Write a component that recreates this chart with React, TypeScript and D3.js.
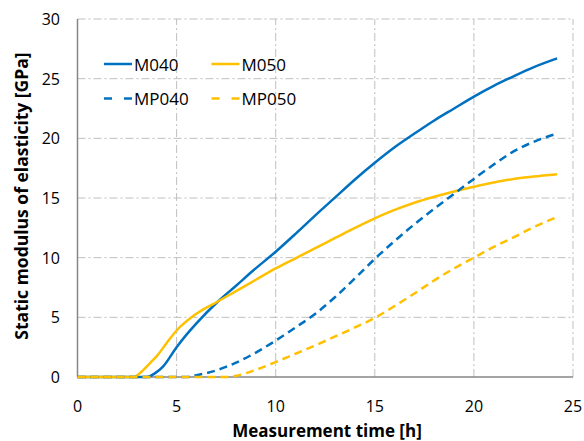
import * as d3 from "d3";

const m040Time = [0, 3.5, 3.9, 4.3, 5, 5.5, 6, 7.1, 8, 8.85, 10, 11, 12, 13, 14, 15, 16, 17, 18, 19, 20, 21, 22, 23, 24.2];
const m040Value = [0, 0, 0.3, 0.85, 2.5, 3.55, 4.5, 6.35, 7.65, 8.9, 10.5, 12.0, 13.55, 15.05, 16.55, 17.95, 19.25, 20.4, 21.5, 22.5, 23.5, 24.4, 25.2, 25.95, 26.7];

const m050Time = [0, 2.85, 3.2, 3.65, 4.0, 4.5, 5, 6, 7.1, 8, 9, 10, 11, 12, 13, 14, 15, 16, 17, 18, 19, 20, 21, 22, 23, 24.2];
const m050Value = [0, 0, 0.4, 1.15, 1.75, 2.85, 3.9, 5.3, 6.35, 7.2, 8.15, 9.1, 9.95, 10.8, 11.65, 12.5, 13.3, 14.0, 14.6, 15.1, 15.55, 15.95, 16.3, 16.6, 16.8, 17.0];

const mp040Time = [0, 5.5, 6, 7, 7.5, 8, 9, 10, 11, 12, 13, 14.2, 15, 16, 17, 18, 19, 20, 21, 22, 23, 24.2];
const mp040Value = [0, 0, 0.15, 0.55, 0.86, 1.2, 2.05, 3.05, 4.15, 5.3, 6.7, 8.6, 9.9, 11.4, 12.8, 14.1, 15.35, 16.6, 17.8, 18.9, 19.7, 20.4];

const mp050Time = [0, 7.6, 8, 9, 10, 11, 12, 13, 14, 15, 16, 17, 18, 19, 20, 21, 22, 23, 24.2];
const mp050Value = [0, 0, 0.1, 0.6, 1.25, 1.95, 2.65, 3.4, 4.15, 4.95, 5.95, 7.0, 8.1, 9.1, 10.0, 10.9, 11.7, 12.55, 13.4];

const xTicks = [0, 5, 10, 15, 20, 25];
const yTicks = [0, 5, 10, 15, 20, 25, 30];

const series = [
  { name: "M040", time: m040Time, value: m040Value, color: "#0070C0", dashed: false },
  { name: "M050", time: m050Time, value: m050Value, color: "#FFC000", dashed: false },
  { name: "MP040", time: mp040Time, value: mp040Value, color: "#0070C0", dashed: true },
  { name: "MP050", time: mp050Time, value: mp050Value, color: "#FFC000", dashed: true },
];

const W = 584;
const H = 441;
const margin = { top: 19, right: 11, bottom: 64, left: 77.5 };
const font = "'Open Sans', 'Liberation Sans', sans-serif";

export default function App() {
  const x = d3.scaleLinear().domain([0, 25]).range([margin.left, W - margin.right]);
  const y = d3.scaleLinear().domain([0, 30]).range([H - margin.bottom, margin.top]);

  const line = d3
    .line<[number, number]>()
    .x((d) => x(d[0]))
    .y((d) => y(d[1]))
    .curve(d3.curveMonotoneX);

  // legend placement, 2 columns x 2 rows
  const legendX = [104, 211.5];
  const legendY = [64, 98.5];

  return (
    <div style={{ position: "absolute", left: 0, top: 0 }}>
      <svg width={W} height={H} style={{ display: "block", background: "#fff" }}>
        {/* grid */}
        <g stroke="#BFBFBF" strokeWidth={1} strokeDasharray="8,3,2,3">
          {yTicks.filter((t) => t > 0).map((t) => (
            <line key={"h" + t} x1={x(0)} x2={x(25)} y1={y(t)} y2={y(t)} />
          ))}
          {xTicks.filter((t) => t > 0).map((t) => (
            <line key={"v" + t} x1={x(t)} x2={x(t)} y1={y(0)} y2={y(30)} />
          ))}
        </g>
        {/* axes */}
        <line x1={x(0)} x2={x(0)} y1={y(0)} y2={y(30)} stroke="#868686" strokeWidth={1.5} />
        <line x1={x(0)} x2={x(25)} y1={y(0)} y2={y(0)} stroke="#868686" strokeWidth={1.5} />

        {/* series */}
        {series.map((s) => (
          <path
            key={s.name}
            d={line(s.time.map((t, i) => [t, s.value[i]] as [number, number])) || ""}
            fill="none"
            stroke={s.color}
            strokeWidth={2.5}
            strokeDasharray={s.dashed ? "8,5" : undefined}
          />
        ))}

        {/* tick labels */}
        <g fontFamily={font} fontSize={16} fill="#000">
          {xTicks.map((t) => (
            <text key={"xt" + t} x={x(t)} y={412} textAnchor="middle">
              {t}
            </text>
          ))}
          {yTicks.map((t) => (
            <text key={"yt" + t} x={60} y={y(t) + 6} textAnchor="end">
              {t}
            </text>
          ))}
        </g>

        {/* axis titles */}
        <text x={327} y={437} textAnchor="middle" fontFamily={font} fontSize={17} fontWeight="bold">
          Measurement time [h]
        </text>
        <text
          transform={`translate(28,196) rotate(-90)`}
          textAnchor="middle"
          fontFamily={font}
          fontSize={17.5}
          fontWeight="bold"
        >
          Static modulus of elasticity [GPa]
        </text>

        {/* legend */}
        {series.map((s, i) => {
          const lx = legendX[i % 2];
          const ly = legendY[Math.floor(i / 2)];
          return (
            <g key={"lg" + s.name}>
              <line
                x1={lx}
                x2={lx + 28}
                y1={ly}
                y2={ly}
                stroke={s.color}
                strokeWidth={2.5}
                strokeDasharray={s.dashed ? "8,12" : undefined}
              />
              <text x={lx + 30} y={ly + 6.5} fontFamily={font} fontSize={17} fill="#000">
                {s.name}
              </text>
            </g>
          );
        })}
      </svg>
    </div>
  );
}
